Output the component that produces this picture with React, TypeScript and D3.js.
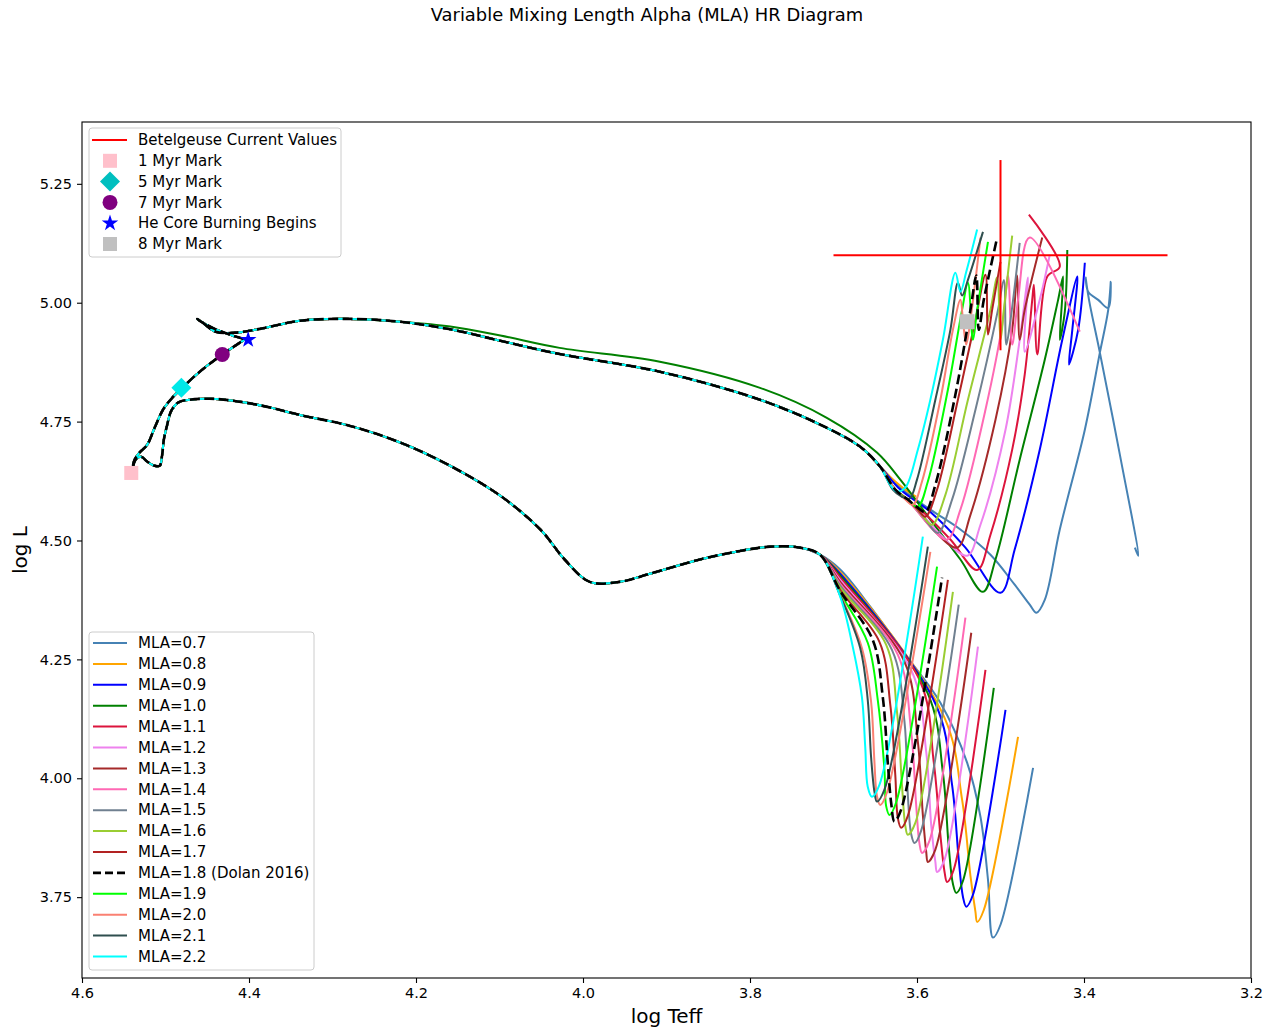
import React, { useEffect, useRef } from "react";
import * as d3 from "d3";

type Pt = [number, number];

// axis ticks
const xTicks = [4.6, 4.4, 4.2, 4.0, 3.8, 3.6, 3.4, 3.2];
const yTicks = [3.75, 4.0, 4.25, 4.5, 4.75, 5.0, 5.25];

const mlaValues = ["0.7", "0.8", "0.9", "1.0", "1.1", "1.2", "1.3", "1.4", "1.5", "1.6", "1.7", "1.8", "1.9", "2.0", "2.1", "2.2"];

// shared hot part of the upper track (MS, hook, start of the crossing)
const upperStart: Pt[] = [
  [4.539, 4.657], [4.537, 4.670], [4.531, 4.685], [4.522, 4.701], [4.513, 4.737], [4.503, 4.775],
  [4.492, 4.800], [4.480, 4.821], [4.459, 4.855], [4.432, 4.891], [4.411, 4.916], [4.406, 4.922],
  [4.420, 4.931], [4.441, 4.945], [4.459, 4.962], [4.462, 4.966], [4.454, 4.956], [4.440, 4.939],
  [4.417, 4.937], [4.387, 4.945], [4.339, 4.962], [4.279, 4.966], [4.219, 4.960],
];
const upperCross: Pt[] = [
  [4.159, 4.944], [4.099, 4.920], [4.028, 4.892], [3.908, 4.855], [3.788, 4.796], [3.708, 4.737],
  [3.668, 4.697], [3.644, 4.655],
];
const upperCrossGreen: Pt[] = [
  [4.159, 4.950], [4.099, 4.931], [4.028, 4.905], [3.908, 4.876], [3.788, 4.821], [3.708, 4.758],
  [3.648, 4.685],
];

// shared part of the lower track
const lowerStart: Pt[] = [
  [4.539, 4.655], [4.535, 4.672], [4.529, 4.676], [4.522, 4.666], [4.513, 4.657], [4.507, 4.657],
  [4.504, 4.680], [4.502, 4.712], [4.498, 4.743], [4.493, 4.773], [4.485, 4.790], [4.471, 4.796],
  [4.447, 4.798], [4.419, 4.794], [4.378, 4.781], [4.339, 4.764], [4.279, 4.741], [4.219, 4.706],
  [4.159, 4.657], [4.099, 4.594], [4.051, 4.523], [4.022, 4.460], [3.992, 4.413], [3.956, 4.413],
  [3.920, 4.430], [3.860, 4.460], [3.812, 4.478], [3.776, 4.487], [3.740, 4.485], [3.716, 4.470],
];

// red-giant ends, one pair per MLA value
const up07: Pt[] = [[3.620, 4.611], [3.584, 4.565], [3.548, 4.523], [3.512, 4.470], [3.483, 4.407], [3.465, 4.365], [3.457, 4.348], [3.447, 4.375], [3.429, 4.523], [3.399, 4.733], [3.381, 4.895], [3.371, 4.985], [3.368, 5.044], [3.371, 4.989], [3.383, 5.006], [3.395, 5.023], [3.398, 5.053], [3.394, 5.006], [3.381, 4.895], [3.357, 4.680], [3.335, 4.468], [3.339, 4.485]];
const lo07: Pt[] = [[3.692, 4.439], [3.656, 4.361], [3.613, 4.258], [3.572, 4.159], [3.540, 4.033], [3.524, 3.919], [3.515, 3.787], [3.509, 3.665], [3.500, 3.692], [3.461, 4.022]];
const up08: Pt[] = [[3.626, 4.624], [3.611, 4.603], [3.601, 4.592]];
const lo08: Pt[] = [[3.692, 4.434], [3.567, 4.127], [3.546, 3.955], [3.536, 3.795], [3.530, 3.719], [3.528, 3.698], [3.520, 3.723], [3.479, 4.087]];
const up09: Pt[] = [[3.620, 4.607], [3.584, 4.560], [3.542, 4.485], [3.500, 4.390], [3.483, 4.481], [3.453, 4.691], [3.426, 4.922], [3.408, 5.055], [3.414, 4.943], [3.418, 4.870], [3.407, 4.943], [3.399, 5.084]];
const lo09: Pt[] = [[3.692, 4.430], [3.577, 4.153], [3.558, 3.986], [3.550, 3.829], [3.545, 3.751], [3.541, 3.730], [3.533, 3.755], [3.494, 4.144]];
const up10: Pt[] = [[3.620, 4.628], [3.584, 4.544], [3.548, 4.460], [3.521, 4.392], [3.506, 4.460], [3.477, 4.670], [3.447, 4.880], [3.431, 5.006], [3.425, 5.055], [3.429, 4.922], [3.423, 4.981], [3.420, 5.111]];
const lo10: Pt[] = [[3.692, 4.426], [3.587, 4.178], [3.569, 4.012], [3.562, 3.856], [3.557, 3.778], [3.553, 3.759], [3.545, 3.784], [3.508, 4.190]];
const up11: Pt[] = [[3.626, 4.607], [3.596, 4.565], [3.560, 4.502], [3.528, 4.438], [3.512, 4.512], [3.486, 4.691], [3.471, 4.849], [3.462, 5.006], [3.460, 5.038], [3.456, 4.891], [3.444, 5.055], [3.429, 5.076], [3.466, 5.185]];
const lo11: Pt[] = [[3.692, 4.422], [3.596, 4.203], [3.580, 4.035], [3.572, 3.881], [3.567, 3.803], [3.564, 3.782], [3.556, 3.808], [3.518, 4.228]];
const up12: Pt[] = [[3.626, 4.607], [3.602, 4.571], [3.572, 4.512], [3.540, 4.468], [3.524, 4.533], [3.494, 4.733], [3.477, 4.922], [3.467, 5.053], [3.471, 4.897], [3.453, 5.006], [3.441, 5.101]];
const lo12: Pt[] = [[3.692, 4.417], [3.606, 4.224], [3.589, 4.056], [3.583, 3.902], [3.578, 3.824], [3.576, 3.803], [3.567, 3.829], [3.527, 4.277]];
const up13: Pt[] = [[3.626, 4.607], [3.606, 4.575], [3.578, 4.518], [3.552, 4.485], [3.536, 4.554], [3.506, 4.754], [3.486, 4.943], [3.480, 5.057], [3.477, 4.922], [3.471, 4.985], [3.450, 5.137]];
const lo13: Pt[] = [[3.692, 4.413], [3.615, 4.245], [3.599, 4.077], [3.593, 3.923], [3.589, 3.846], [3.587, 3.824], [3.578, 3.850], [3.535, 4.306]];
const up14: Pt[] = [[3.626, 4.607], [3.606, 4.575], [3.584, 4.529], [3.564, 4.502], [3.548, 4.565], [3.518, 4.775], [3.497, 4.964], [3.491, 5.057], [3.486, 4.912], [3.479, 5.006], [3.465, 5.137], [3.405, 4.939]];
const lo14: Pt[] = [[3.692, 4.409], [3.623, 4.260], [3.607, 4.098], [3.601, 3.944], [3.597, 3.862], [3.594, 3.843], [3.585, 3.869], [3.542, 4.338]];
const up15: Pt[] = [[3.626, 4.607], [3.608, 4.582], [3.590, 4.544], [3.575, 4.516], [3.558, 4.586], [3.530, 4.775], [3.503, 4.985], [3.496, 5.048], [3.493, 4.912], [3.488, 4.964], [3.477, 5.126]];
const lo15: Pt[] = [[3.692, 4.405], [3.630, 4.270], [3.615, 4.119], [3.611, 3.965], [3.607, 3.883], [3.603, 3.864], [3.595, 3.890], [3.550, 4.365]];
const up16: Pt[] = [[3.626, 4.607], [3.608, 4.582], [3.594, 4.554], [3.582, 4.533], [3.566, 4.596], [3.539, 4.796], [3.512, 4.985], [3.504, 5.053], [3.500, 4.922], [3.496, 4.985], [3.486, 5.141]];
const lo16: Pt[] = [[3.692, 4.401], [3.637, 4.281], [3.624, 4.140], [3.618, 3.986], [3.614, 3.900], [3.611, 3.881], [3.602, 3.906], [3.557, 4.392]];
const up17: Pt[] = [[3.626, 4.607], [3.611, 4.586], [3.599, 4.565], [3.590, 4.550], [3.576, 4.607], [3.551, 4.796], [3.530, 4.964], [3.518, 5.059], [3.515, 4.933], [3.510, 4.985], [3.500, 5.086]];
const lo17: Pt[] = [[3.692, 4.396], [3.645, 4.287], [3.632, 4.155], [3.626, 4.007], [3.623, 3.917], [3.619, 3.896], [3.611, 3.921], [3.563, 4.417]];
const up18: Pt[] = [[3.626, 4.607], [3.611, 4.586], [3.599, 4.569], [3.590, 4.560], [3.578, 4.617], [3.554, 4.807], [3.536, 4.985], [3.529, 5.057], [3.526, 4.943], [3.520, 5.006], [3.504, 5.137]];
const lo18: Pt[] = [[3.692, 4.394], [3.653, 4.291], [3.641, 4.171], [3.635, 4.033], [3.631, 3.949], [3.627, 3.909], [3.619, 3.934], [3.570, 4.422]];
const up19: Pt[] = [[3.626, 4.607], [3.612, 4.586], [3.599, 4.571], [3.587, 4.624], [3.563, 4.817], [3.546, 4.985], [3.539, 5.042], [3.533, 4.922], [3.528, 4.985], [3.515, 5.128]];
const lo19: Pt[] = [[3.692, 4.390], [3.659, 4.285], [3.647, 4.165], [3.639, 4.018], [3.637, 3.942], [3.633, 3.923], [3.625, 3.949], [3.576, 4.445]];
const up20: Pt[] = [[3.626, 4.607], [3.614, 4.586], [3.605, 4.575], [3.594, 4.624], [3.572, 4.796], [3.557, 4.943], [3.548, 5.006], [3.545, 4.964], [3.541, 4.912], [3.536, 4.964], [3.524, 5.137]];
const lo20: Pt[] = [[3.692, 4.386], [3.666, 4.274], [3.655, 4.161], [3.651, 4.035], [3.648, 3.963], [3.644, 3.944], [3.636, 3.970], [3.584, 4.476]];
const up21: Pt[] = [[3.629, 4.607], [3.618, 4.592], [3.609, 4.588], [3.600, 4.628], [3.578, 4.796], [3.560, 4.943], [3.551, 5.042], [3.546, 5.015], [3.539, 5.048], [3.521, 5.149]];
const lo21: Pt[] = [[3.692, 4.384], [3.668, 4.274], [3.659, 4.165], [3.655, 4.045], [3.651, 3.972], [3.648, 3.951], [3.639, 3.976], [3.587, 4.487]];
const up22: Pt[] = [[3.632, 4.617], [3.624, 4.603], [3.614, 4.611], [3.599, 4.691], [3.584, 4.796], [3.569, 4.922], [3.554, 5.063], [3.548, 5.023], [3.541, 5.065], [3.528, 5.154]];
const lo22: Pt[] = [[3.692, 4.382], [3.677, 4.277], [3.666, 4.171], [3.662, 4.066], [3.659, 3.982], [3.654, 3.961], [3.645, 3.986], [3.593, 4.508]];

const upperTails = [up07, up08, up09, up10, up11, up12, up13, up14, up15, up16, up17, up18, up19, up20, up21, up22];
const lowerTails = [lo07, lo08, lo09, lo10, lo11, lo12, lo13, lo14, lo15, lo16, lo17, lo18, lo19, lo20, lo21, lo22];

// age marks
const markLabels = ["1 Myr Mark", "5 Myr Mark", "7 Myr Mark", "He Core Burning Begins", "8 Myr Mark"];
const markTeff = [4.541, 4.481, 4.432, 4.401, 3.540];
const markLum = [4.642, 4.821, 4.891, 4.922, 4.960];

// Betelgeuse
const betelTeff = 3.5;
const betelLum = 5.1;
const betelErrTeff = 0.2;
const betelErrLum = 0.2;

const lineColors = ["steelblue", "orange", "blue", "green", "crimson", "violet", "brown", "hotpink", "slategray", "yellowgreen", "firebrick", "black", "lime", "salmon", "darkslategray", "cyan"];
const markColors = ["pink", "#00bfbf", "purple", "blue", "silver"];
const markShapes = ["square", "diamond", "circle", "star", "square"];

const W = 1277;
const H = 1029;
const margin = { top: 122, right: 26, bottom: 51, left: 82 };
const FONT = "DejaVu Sans, sans-serif";

function drawMarker(g: any, shape: string, cx: number, cy: number, color: string, big: boolean) {
  const s = big ? 15 : 14;
  if (shape === "square") {
    g.append("rect").attr("x", cx - s / 2).attr("y", cy - s / 2).attr("width", s).attr("height", s).attr("fill", color);
  } else if (shape === "diamond") {
    const r = 10;
    g.append("path").attr("d", `M${cx},${cy - r}L${cx + r},${cy}L${cx},${cy + r}L${cx - r},${cy}Z`).attr("fill", color);
  } else if (shape === "circle") {
    g.append("circle").attr("cx", cx).attr("cy", cy).attr("r", 7.5).attr("fill", color);
  } else {
    g.append("path").attr("d", d3.symbol().type(d3.symbolStar).size(85)()).attr("transform", `translate(${cx},${cy})`).attr("fill", color);
  }
}

export default function App() {
  const ref = useRef<SVGSVGElement | null>(null);

  useEffect(() => {
    const node = ref.current;
    if (!node) return;
    const svg = d3.select(node);
    svg.selectAll("*").remove();

    const x = d3.scaleLinear().domain([4.6, 3.2]).range([margin.left, W - margin.right]);
    const y = d3.scaleLinear().domain([3.58, 5.38]).range([H - margin.bottom, margin.top]);

    svg.append("rect").attr("width", W).attr("height", H).attr("fill", "white");

    svg.append("defs").append("clipPath").attr("id", "plotclip")
      .append("rect")
      .attr("x", margin.left).attr("y", margin.top)
      .attr("width", W - margin.left - margin.right).attr("height", H - margin.top - margin.bottom);

    const plot = svg.append("g").attr("clip-path", "url(#plotclip)");

    const line = d3.line<Pt>()
      .x(d => x(d[0]))
      .y(d => y(d[1]))
      .curve(d3.curveCatmullRom.alpha(0.5));

    // dashed Dolan track goes on top of the rest
    const order = mlaValues.map((_, i) => i).filter(i => mlaValues[i] !== "1.8");
    order.push(mlaValues.indexOf("1.8"));

    for (const i of order) {
      const dashed = mlaValues[i] === "1.8";
      const upper = [...upperStart, ...(mlaValues[i] === "1.0" ? upperCrossGreen : upperCross), ...upperTails[i]];
      const lower = [...lowerStart, ...lowerTails[i]];
      for (const track of [lower, upper]) {
        plot.append("path")
          .attr("d", line(track))
          .attr("fill", "none")
          .attr("stroke", lineColors[i])
          .attr("stroke-width", dashed ? 2.6 : 2)
          .attr("stroke-dasharray", dashed ? "10,4.4" : null)
          .attr("stroke-linejoin", "round");
      }
    }

    // Betelgeuse error bars
    plot.append("line")
      .attr("x1", x(betelTeff + betelErrTeff)).attr("x2", x(betelTeff - betelErrTeff))
      .attr("y1", y(betelLum)).attr("y2", y(betelLum))
      .attr("stroke", "red").attr("stroke-width", 2);
    plot.append("line")
      .attr("x1", x(betelTeff)).attr("x2", x(betelTeff))
      .attr("y1", y(betelLum + betelErrLum)).attr("y2", y(betelLum - betelErrLum))
      .attr("stroke", "red").attr("stroke-width", 2);

    // age markers
    markTeff.forEach((t, i) => {
      const col = i === 1 ? "#00e8e8" : markColors[i];
      drawMarker(plot, markShapes[i], x(t), y(markLum[i]), col, i === 4);
    });

    // axes
    const xAxis = svg.append("g")
      .attr("transform", `translate(0,${H - margin.bottom})`)
      .call(d3.axisBottom(x).tickValues(xTicks).tickFormat(d3.format(".1f")).tickSize(5).tickPadding(5));
    const yAxis = svg.append("g")
      .attr("transform", `translate(${margin.left},0)`)
      .call(d3.axisLeft(y).tickValues(yTicks).tickFormat(d3.format(".2f")).tickSize(5).tickPadding(5));
    for (const ax of [xAxis, yAxis]) {
      ax.select(".domain").remove();
      ax.selectAll("text").attr("font-family", FONT).attr("font-size", 14.5).attr("fill", "#000");
      ax.selectAll("line").attr("stroke", "#000").attr("stroke-width", 1.1);
    }

    svg.append("rect")
      .attr("x", margin.left).attr("y", margin.top)
      .attr("width", W - margin.left - margin.right).attr("height", H - margin.top - margin.bottom)
      .attr("fill", "none").attr("stroke", "#000").attr("stroke-width", 1.1);

    // titles
    svg.append("text")
      .attr("x", 647).attr("y", 21)
      .attr("text-anchor", "middle")
      .attr("font-family", FONT).attr("font-size", 17.9)
      .text("Variable Mixing Length Alpha (MLA) HR Diagram");
    svg.append("text")
      .attr("x", (margin.left + W - margin.right) / 2).attr("y", 1023)
      .attr("text-anchor", "middle")
      .attr("font-family", FONT).attr("font-size", 20)
      .text("log Teff");
    svg.append("text")
      .attr("transform", `translate(27,${(margin.top + H - margin.bottom) / 2}) rotate(-90)`)
      .attr("text-anchor", "middle")
      .attr("font-family", FONT).attr("font-size", 20)
      .text("log L");

    // top legend
    const lg1 = svg.append("g");
    lg1.append("rect")
      .attr("x", margin.left + 7).attr("y", margin.top + 6)
      .attr("width", 252).attr("height", 129).attr("rx", 3)
      .attr("fill", "white").attr("fill-opacity", 0.8)
      .attr("stroke", "#cccccc");
    const topLabels = ["Betelgeuse Current Values", ...markLabels];
    topLabels.forEach((lab, i) => {
      const ry = margin.top + 18 + i * 20.8;
      if (i === 0) {
        lg1.append("line").attr("x1", margin.left + 10).attr("x2", margin.left + 45)
          .attr("y1", ry).attr("y2", ry).attr("stroke", "red").attr("stroke-width", 2);
      } else {
        drawMarker(lg1, markShapes[i - 1], margin.left + 28, ry, markColors[i - 1], false);
      }
      lg1.append("text")
        .attr("x", margin.left + 56).attr("y", ry).attr("dy", "0.35em")
        .attr("font-family", FONT).attr("font-size", 15)
        .text(lab);
    });

    // bottom legend
    const lg2 = svg.append("g");
    lg2.append("rect")
      .attr("x", margin.left + 7).attr("y", 632)
      .attr("width", 225).attr("height", 338).attr("rx", 3)
      .attr("fill", "white").attr("fill-opacity", 0.8)
      .attr("stroke", "#cccccc");
    mlaValues.forEach((v, i) => {
      const ry = 643 + i * 20.9;
      const dashed = v === "1.8";
      lg2.append("line").attr("x1", margin.left + 11).attr("x2", margin.left + 45)
        .attr("y1", ry).attr("y2", ry)
        .attr("stroke", lineColors[i]).attr("stroke-width", dashed ? 2.6 : 2)
        .attr("stroke-dasharray", dashed ? "8,4" : null);
      lg2.append("text")
        .attr("x", margin.left + 56).attr("y", ry).attr("dy", "0.35em")
        .attr("font-family", FONT).attr("font-size", 15)
        .text(dashed ? `MLA=${v} (Dolan 2016)` : `MLA=${v}`);
    });
  }, []);

  return (
    <svg ref={ref} width={W} height={H} style={{ position: "absolute", left: 0, top: 0 }} />
  );
}
